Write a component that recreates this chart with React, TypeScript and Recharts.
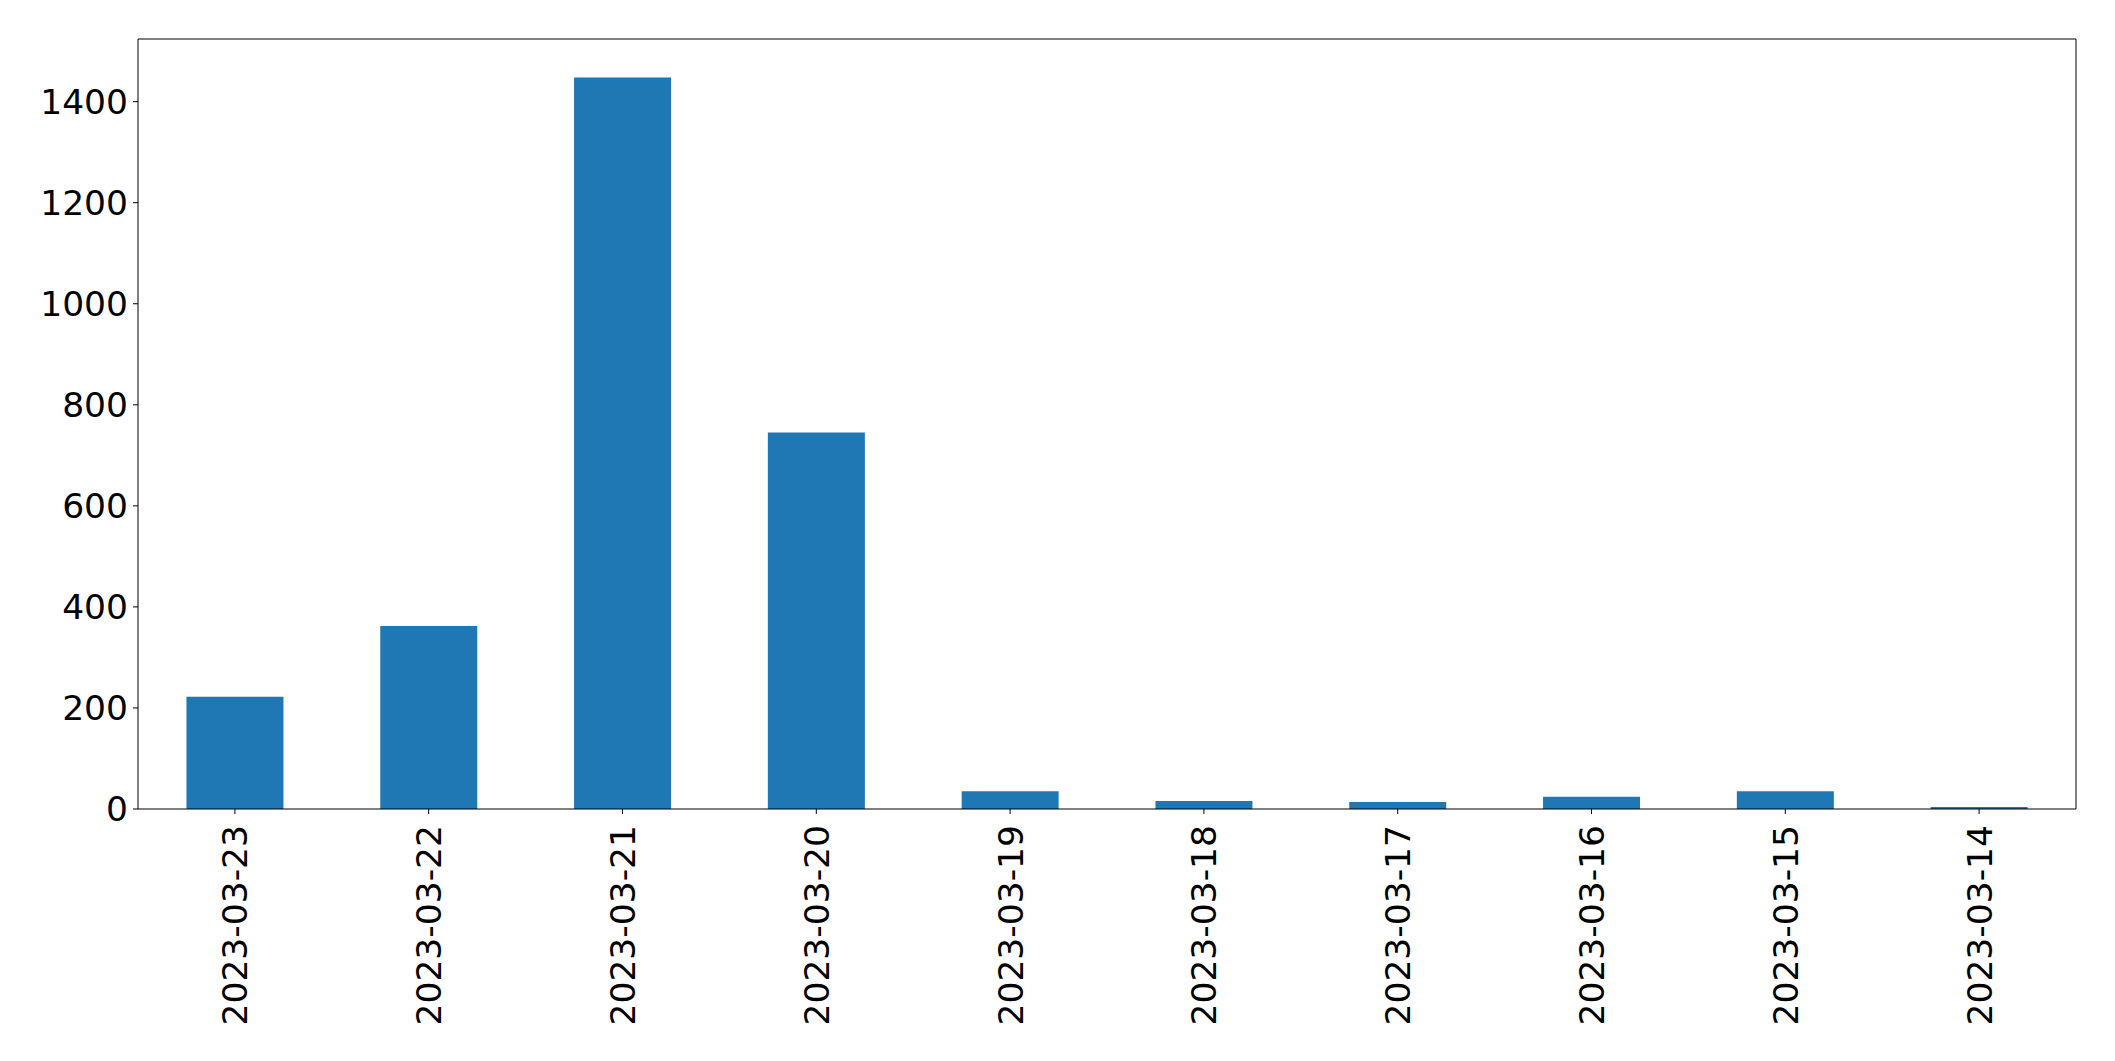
import { BarChart, Bar, XAxis, YAxis } from 'recharts';

// dates, newest first as in the original
const dates = [
  '2023-03-23', '2023-03-22', '2023-03-21', '2023-03-20', '2023-03-19',
  '2023-03-18', '2023-03-17', '2023-03-16', '2023-03-15', '2023-03-14',
];
const counts = [222, 362, 1448, 745, 35, 16, 14, 24, 35, 4];
const yTicks = [0, 200, 400, 600, 800, 1000, 1200, 1400];

const data = dates.map((d, i) => ({ date: d, count: counts[i] }));

const FONT = '"DejaVu Sans", sans-serif';
const FS = 34.5;

// rotated x labels, reading bottom to top
const DateTick = (props: any) => {
  const { x, y, payload } = props;
  return (
    <text
      x={x}
      y={y}
      transform={`rotate(-90, ${x}, ${y})`}
      textAnchor="end"
      dy="0.36em"
      fill="#000"
      fontSize={FS}
      fontFamily={FONT}
    >
      {payload.value}
    </text>
  );
};

export default function App() {
  return (
    <div style={{ position: 'absolute', left: 0, top: 0, width: 2115, height: 1061, background: '#fff' }}>
      <BarChart
        width={2115}
        height={1061}
        data={data}
        margin={{ top: 38, right: 38, left: 38, bottom: 12 }}
        barCategoryGap="25%"
      >
        <XAxis
          dataKey="date"
          stroke="#000"
          tickLine={{ stroke: '#000' }}
          tickSize={5}
          tickMargin={11}
          height={240}
          interval={0}
          tick={<DateTick />}
        />
        <XAxis xAxisId="top" orientation="top" dataKey="date" height={1} tick={false} tickLine={false} axisLine={{ stroke: '#000' }} />
        <YAxis
          domain={[0, 1524]}
          ticks={yTicks}
          width={100}
          stroke="#000"
          tickSize={5}
          tickMargin={5}
          tick={{ fill: '#000', fontSize: FS, fontFamily: FONT }}
          allowDataOverflow
        />
        <YAxis yAxisId="right" orientation="right" width={1} tick={false} tickLine={false} axisLine={{ stroke: '#000' }} />
        <Bar dataKey="count" fill="#1f77b4" isAnimationActive={false} />
      </BarChart>
    </div>
  );
}
